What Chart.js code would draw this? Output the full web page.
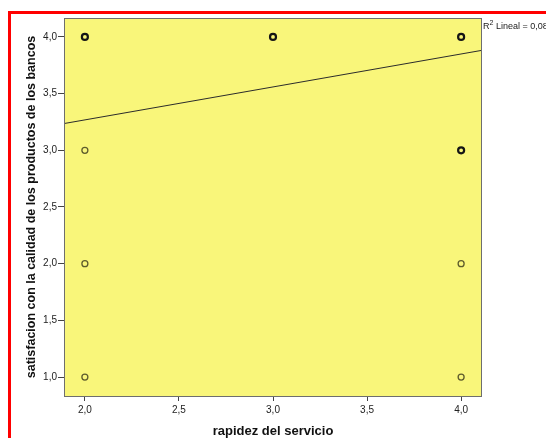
<!DOCTYPE html>
<html>
<head>
<meta charset="utf-8">
<script src="https://cdn.jsdelivr.net/npm/chart.js@4.4.1/dist/chart.umd.min.js"></script>
<style>
  body { margin: 0; background: #ffffff; }
  canvas { display: block; }
</style>
</head>
<body>
<canvas id="scatterChart" width="546" height="438"></canvas>
<script>
// values
const xDense = [2, 3, 4, 4];          // darker circles (several cases on top of each other)
const yDense = [4, 4, 4, 3];
const xSparse = [2, 2, 2, 4, 4];      // single cases
const ySparse = [3, 2, 1, 2, 1];
const fitX = [1.889, 4.111];          // fitted line, edge to edge
const fitY = [3.236, 3.882];
const xTicks = [2, 2.5, 3, 3.5, 4];
const yTicks = [1, 1.5, 2, 2.5, 3, 3.5, 4];
const xRange = [1.889, 4.111];
const yRange = [0.833, 4.167];
const r2Text = ' Lineal = 0,083';

function toPoints(xs, ys) {
    return xs.map((x, i) => ({ x: x, y: ys[i] }));
}

function commaLabel(value) {
    return Number(value).toFixed(1).replace('.', ',');
}

// yellow plot area, grey frame, red outer frame and the R² note
const framePlugin = {
    id: 'framePlugin',
    beforeDatasetsDraw(chart) {
        const { ctx, chartArea: a } = chart;
        ctx.save();
        ctx.fillStyle = '#f9f67a';
        ctx.fillRect(a.left, a.top, a.right - a.left, a.bottom - a.top);
        ctx.restore();
    },
    afterDraw(chart) {
        const { ctx, chartArea: a } = chart;
        ctx.save();
        ctx.strokeStyle = '#6e6e6e';
        ctx.lineWidth = 1;
        ctx.strokeRect(Math.round(a.left) + 0.5, Math.round(a.top) + 0.5,
            Math.round(a.right - a.left) - 1, Math.round(a.bottom - a.top));

        ctx.strokeStyle = '#ff0000';
        ctx.lineWidth = 3;
        ctx.strokeRect(9.5, 12.5, 700, 600);

        ctx.fillStyle = '#222222';
        ctx.textBaseline = 'alphabetic';
        ctx.font = '9px "Liberation Sans", Arial, sans-serif';
        let x = a.right + 1;
        ctx.fillText('R', x, 29);
        x += ctx.measureText('R').width;
        ctx.font = '7px "Liberation Sans", Arial, sans-serif';
        ctx.fillText('2', x, 25);
        x += ctx.measureText('2').width;
        ctx.font = '9px "Liberation Sans", Arial, sans-serif';
        ctx.fillText(r2Text, x, 29);
        ctx.restore();
    }
};

const ctx = document.getElementById('scatterChart').getContext('2d');

new Chart(ctx, {
    type: 'scatter',
    data: {
        datasets: [
            {
                label: 'fit',
                type: 'line',
                data: toPoints(fitX, fitY),
                borderColor: '#2b2b2b',
                borderWidth: 1,
                pointRadius: 0,
                fill: false
            },
            {
                label: 'single',
                data: toPoints(xSparse, ySparse),
                pointRadius: 3,
                pointBorderWidth: 1.3,
                pointBorderColor: '#5e5c2c',
                pointBackgroundColor: 'rgba(0,0,0,0)'
            },
            {
                label: 'multiple',
                data: toPoints(xDense, yDense),
                pointRadius: 3,
                pointBorderWidth: 2.2,
                pointBorderColor: '#151515',
                pointBackgroundColor: 'rgba(0,0,0,0)'
            }
        ]
    },
    options: {
        responsive: false,
        animation: false,
        devicePixelRatio: 1,
        layout: { padding: { left: 0, top: 18, right: 64, bottom: 0 } },
        plugins: {
            legend: { display: false },
            tooltip: { enabled: false }
        },
        scales: {
            x: {
                type: 'linear',
                min: xRange[0],
                max: xRange[1],
                afterFit(scale) { scale.height = 42; },
                afterBuildTicks(scale) { scale.ticks = xTicks.map(v => ({ value: v })); },
                border: { display: false },
                grid: { drawOnChartArea: false, drawTicks: true, tickLength: 5, color: '#444444' },
                ticks: {
                    padding: 3,
                    maxRotation: 0,
                    color: '#222222',
                    font: { family: '"Liberation Sans", Arial, sans-serif', size: 10 },
                    callback: commaLabel
                },
                title: {
                    display: true,
                    text: 'rapidez del servicio',
                    color: '#111111',
                    padding: { top: 0, bottom: 0 },
                    font: { family: '"Liberation Sans", Arial, sans-serif', size: 13, weight: 'bold', lineHeight: 1 }
                }
            },
            y: {
                type: 'linear',
                min: yRange[0],
                max: yRange[1],
                afterFit(scale) { scale.width = 64; },
                afterBuildTicks(scale) { scale.ticks = yTicks.map(v => ({ value: v })); },
                border: { display: false },
                grid: { drawOnChartArea: false, drawTicks: true, tickLength: 6, color: '#444444' },
                ticks: {
                    padding: 1,
                    color: '#222222',
                    font: { family: '"Liberation Sans", Arial, sans-serif', size: 10 },
                    callback: commaLabel
                },
                title: {
                    display: true,
                    text: 'satisfacion con la calidad de los productos de los bancos',
                    color: '#111111',
                    padding: { top: 25, bottom: 0 },
                    font: { family: '"Liberation Sans", Arial, sans-serif', size: 12.5, weight: 'bold', lineHeight: 1 }
                }
            }
        }
    },
    plugins: [framePlugin]
});
</script>
</body>
</html>
